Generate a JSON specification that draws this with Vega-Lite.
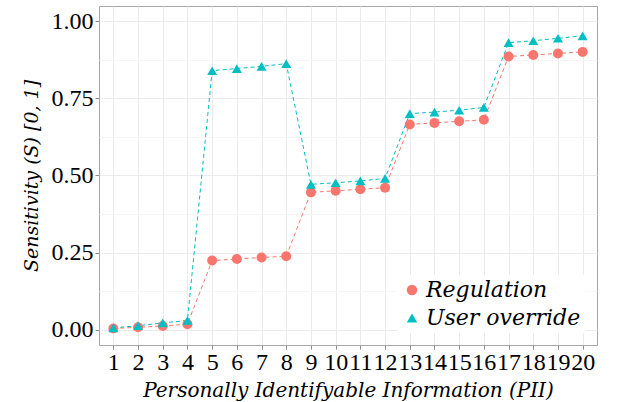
{
  "$schema": "https://vega.github.io/schema/vega-lite/v6.json",
  "autosize": {"type": "none"},
  "width": 498,
  "height": 339,
  "padding": {"left": 99, "top": 6, "right": 20, "bottom": 57},
  "background": "white",
  "config": {
    "font": "Liberation Serif",
    "view": {"stroke": "#a6a6a6", "strokeWidth": 1},
    "axis": {
      "gridColor": "#ebebeb",
      "gridWidth": 1,
      "domain": false,
      "tickColor": "#8c8c8c",
      "tickSize": 4,
      "labelColor": "black",
      "titleColor": "black",
      "titleFontWeight": "normal",
      "titleFontStyle": "italic",
      "labelFont": "Liberation Serif",
      "titleFont": "DejaVu Serif"
    },
    "legend": {"labelFont": "DejaVu Serif"}
  },
  "data": {
    "values": [
      {"pii": 1, "series": "Regulation", "s": 0.004},
      {"pii": 2, "series": "Regulation", "s": 0.008},
      {"pii": 3, "series": "Regulation", "s": 0.012},
      {"pii": 4, "series": "Regulation", "s": 0.018},
      {"pii": 5, "series": "Regulation", "s": 0.224},
      {"pii": 6, "series": "Regulation", "s": 0.229},
      {"pii": 7, "series": "Regulation", "s": 0.234},
      {"pii": 8, "series": "Regulation", "s": 0.238},
      {"pii": 9, "series": "Regulation", "s": 0.445},
      {"pii": 10, "series": "Regulation", "s": 0.45},
      {"pii": 11, "series": "Regulation", "s": 0.455},
      {"pii": 12, "series": "Regulation", "s": 0.46},
      {"pii": 13, "series": "Regulation", "s": 0.665},
      {"pii": 14, "series": "Regulation", "s": 0.67},
      {"pii": 15, "series": "Regulation", "s": 0.675},
      {"pii": 16, "series": "Regulation", "s": 0.68},
      {"pii": 17, "series": "Regulation", "s": 0.885},
      {"pii": 18, "series": "Regulation", "s": 0.89},
      {"pii": 19, "series": "Regulation", "s": 0.895},
      {"pii": 20, "series": "Regulation", "s": 0.9},
      {"pii": 1, "series": "User override", "s": 0.006},
      {"pii": 2, "series": "User override", "s": 0.013},
      {"pii": 3, "series": "User override", "s": 0.022},
      {"pii": 4, "series": "User override", "s": 0.03},
      {"pii": 5, "series": "User override", "s": 0.839},
      {"pii": 6, "series": "User override", "s": 0.846},
      {"pii": 7, "series": "User override", "s": 0.853},
      {"pii": 8, "series": "User override", "s": 0.862},
      {"pii": 9, "series": "User override", "s": 0.471},
      {"pii": 10, "series": "User override", "s": 0.476},
      {"pii": 11, "series": "User override", "s": 0.482},
      {"pii": 12, "series": "User override", "s": 0.49},
      {"pii": 13, "series": "User override", "s": 0.7},
      {"pii": 14, "series": "User override", "s": 0.705},
      {"pii": 15, "series": "User override", "s": 0.711},
      {"pii": 16, "series": "User override", "s": 0.72},
      {"pii": 17, "series": "User override", "s": 0.93},
      {"pii": 18, "series": "User override", "s": 0.936},
      {"pii": 19, "series": "User override", "s": 0.944},
      {"pii": 20, "series": "User override", "s": 0.952}
    ]
  },
  "encoding": {
    "x": {
      "field": "pii",
      "type": "quantitative",
      "scale": {"domain": [0.42, 20.58], "nice": false, "zero": false},
      "axis": {
        "values": [1,2,3,4,5,6,7,8,9,10,11,12,13,14,15,16,17,18,19,20],
        "format": "d",
        "labelFontSize": 24,
        "labelOverlap": false,
        "labelBound": false,
        "labelFlush": false,
        "labelPadding": 1,
        "title": "Personally Identifyable Information (PII)",
        "titleFontSize": 20,
        "titlePadding": 6
      }
    },
    "y": {
      "field": "s",
      "type": "quantitative",
      "scale": {"domain": [-0.0495, 1.0486], "nice": false, "zero": false},
      "axis": {
        "values": [0, 0.125, 0.25, 0.375, 0.5, 0.625, 0.75, 0.875, 1],
        "labelExpr": "round(datum.value * 4) == datum.value * 4 ? format(datum.value, '.2f') : ''",
        "gridColor": {"condition": {"test": "round(datum.value * 4) != datum.value * 4", "value": "#f6f6f6"}, "value": "#ebebeb"},
        "tickOpacity": {"condition": {"test": "round(datum.value * 4) != datum.value * 4", "value": 0}, "value": 1},
        "labelFontSize": 24,
        "labelPadding": 2,
        "title": "Sensitivity (S) [0, 1]",
        "titleFontSize": 19,
        "titlePadding": 10
      }
    },
    "color": {
      "field": "series",
      "type": "nominal",
      "scale": {"domain": ["Regulation", "User override"], "range": ["#F8766D", "#00BFC4"]},
      "legend": {
        "title": null,
        "orient": "none",
        "legendX": 298,
        "legendY": 269,
        "labelFontSize": 22,
        "labelFontStyle": "italic",
        "labelColor": "black",
        "symbolSize": 110,
        "symbolStrokeWidth": 0,
        "fillColor": "white",
        "padding": 4,
        "rowPadding": 6,
        "labelOffset": 3,
        "labelLimit": 300
      }
    },
    "shape": {
      "field": "series",
      "type": "nominal",
      "scale": {"domain": ["Regulation", "User override"], "range": ["circle", "triangle-up"]},
      "legend": null
    }
  },
  "layer": [
    {
      "mark": {"type": "line", "strokeDash": [4, 3], "strokeWidth": 1},
      "encoding": {"detail": {"field": "series"}, "shape": null}
    },
    {
      "mark": {"type": "point", "filled": true, "opacity": 1, "size": 100}
    }
  ]
}
